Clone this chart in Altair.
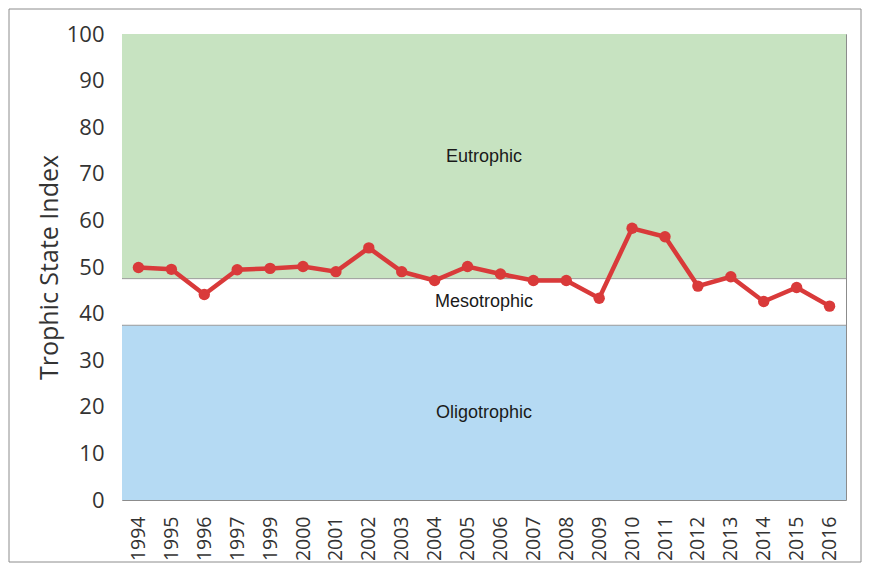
import altair as alt
import pandas as pd

years = ["1994", "1995", "1996", "1997", "1999", "2000", "2001", "2002", "2003", "2004",
         "2005", "2006", "2007", "2008", "2009", "2010", "2011", "2012", "2013", "2014",
         "2015", "2016"]
tsi = [49.9, 49.5, 44.1, 49.4, 49.7, 50.1, 49.0, 54.1, 49.0, 47.1,
       50.1, 48.5, 47.1, 47.1, 43.3, 58.3, 56.5, 45.9, 47.9, 42.6,
       45.6, 41.6]

band_names = ["Eutrophic", "Mesotrophic", "Oligotrophic"]
band_low = [47.5, 37.5, 0]
band_high = [100, 47.5, 37.5]
band_colors = ["#c7e3c1", "#ffffff", "#b5daf3"]
label_y = [73.6, 42.5, 18.7]

df = pd.DataFrame({"year": years, "tsi": tsi})
bands = pd.DataFrame({"name": band_names, "low": band_low, "high": band_high,
                      "color": band_colors, "ly": label_y})

W, H = 724, 466

yscale = alt.Scale(domain=[0, 100])
xscale = alt.Scale(domain=years, padding=0.5)

band_layer = alt.Chart(bands).mark_rect(stroke=None).encode(
    x=alt.value(0), x2=alt.value(W),
    y=alt.Y("low:Q", scale=yscale), y2="high:Q",
    color=alt.Color("color:N", scale=None),
)

sep = alt.Chart(pd.DataFrame({"v": [47.5, 37.5]})).mark_rule(color="#9a9a9a", strokeWidth=1).encode(
    x=alt.value(0), x2=alt.value(W), y=alt.Y("v:Q", scale=yscale)
)

band_text = alt.Chart(bands).mark_text(font="Liberation Sans", fontSize=18, color="#1a1a1a").encode(
    x=alt.value(362), y=alt.Y("ly:Q", scale=yscale), text="name:N"
)

line = alt.Chart(df).mark_line(color="#d93a3a", strokeWidth=4.5).encode(
    x=alt.X("year:O", scale=xscale, sort=years,
            axis=alt.Axis(title=None, labelAngle=-90, labelFontSize=19.5, labelFont="Open Sans",
                          labelColor="#333333", labelPadding=16, ticks=False, domain=False,
                          labelBaseline="middle", labelAlign="right")),
    y=alt.Y("tsi:Q", scale=yscale,
            axis=alt.Axis(title="Trophic  State Index", titleFontSize=25, titleFont="Open Sans",
                          titleFontWeight="normal", titleColor="#333333", titlePadding=4,
                          values=list(range(0, 101, 10)), labelFontSize=22, labelFont="Open Sans",
                          labelColor="#333333", labelPadding=18, ticks=False, domain=False,
                          grid=False)),
)
points = alt.Chart(df).mark_circle(color="#d93a3a", size=130, opacity=1).encode(
    x=alt.X("year:O", scale=xscale, sort=years),
    y=alt.Y("tsi:Q", scale=yscale),
)

frame = alt.Chart(pd.DataFrame({"a": [0]})).mark_rect(fill="transparent", stroke="#8c8c8c", strokeWidth=1).encode(
    x=alt.value(-113), x2=alt.value(739), y=alt.value(-25), y2=alt.value(528)
)

chart = alt.layer(band_layer, sep, band_text, line, points, frame).properties(
    width=W, height=H,
    padding={"left": 114, "top": 26, "right": 16, "bottom": 63},
    autosize=alt.AutoSizeParams(type="none"),
    background="white",
).configure_view(stroke="#8c8c8c", strokeWidth=1)

chart.save("out.html", embed_options={"renderer": "svg", "actions": False})
